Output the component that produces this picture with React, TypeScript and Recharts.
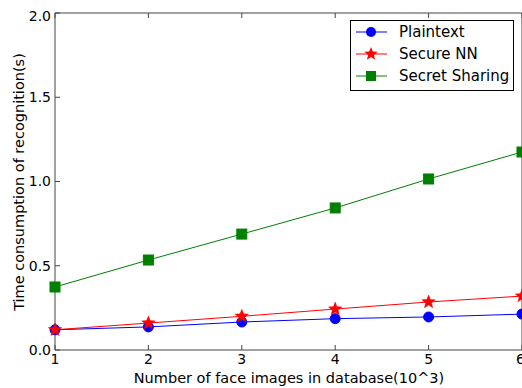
import { CartesianGrid, Legend, Line, LineChart, XAxis, YAxis } from "recharts";

const sizes = [1, 2, 3, 4, 5, 6];
const plaintext = [0.12, 0.137, 0.166, 0.186, 0.196, 0.213];
const secureNN = [0.12, 0.16, 0.2, 0.243, 0.285, 0.32];
const secretSharing = [0.374, 0.534, 0.688, 0.843, 1.015, 1.175];
const yTicks = [0, 0.5, 1, 1.5, 2];

const data = sizes.map((n, i) => ({
  n,
  plaintext: plaintext[i],
  secureNN: secureNN[i],
  secretSharing: secretSharing[i],
}));

const FONT = "'DejaVu Sans', sans-serif";
const FRAME = "#444";

function starPoints(cx: number, cy: number, ro: number, ri: number) {
  const pts: string[] = [];
  for (let k = 0; k < 10; k++) {
    const r = k % 2 === 0 ? ro : ri;
    const a = -Math.PI / 2 + (k * Math.PI) / 5;
    pts.push(`${cx + r * Math.cos(a)},${cy + r * Math.sin(a)}`);
  }
  return pts.join(" ");
}

const CircleDot = (p: any) => (
  <circle key={p.index} cx={p.cx} cy={p.cy} r={5} fill="#0000ff" stroke="#0000ff" />
);
const StarDot = (p: any) => (
  <polygon key={p.index} points={starPoints(p.cx, p.cy, 7, 3)} fill="#ff0000" stroke="#ff0000" strokeWidth={0.5} />
);
const SquareDot = (p: any) => (
  <rect key={p.index} x={p.cx - 5} y={p.cy - 5} width={10} height={10} fill="#008000" stroke="#008000" />
);

const legendItems = [
  { name: "Plaintext", color: "#0000ff", kind: "circle" },
  { name: "Secure NN", color: "#ff0000", kind: "star" },
  { name: "Secret Sharing", color: "#008000", kind: "square" },
];

function LegendBox() {
  return (
    <svg width={164} height={71} style={{ display: "block" }}>
      <rect x={0.5} y={0.5} width={163} height={70} fill="#fff" stroke="#000" />
      {legendItems.map((it, i) => {
        const y = 12 + i * 22;
        return (
          <g key={it.name}>
            <line x1={6} x2={37} y1={y} y2={y} stroke={it.color} />
            {it.kind === "circle" && <circle cx={21} cy={y} r={5} fill={it.color} />}
            {it.kind === "star" && <polygon points={starPoints(21, y, 7, 3)} fill={it.color} />}
            {it.kind === "square" && <rect x={16} y={y - 5} width={10} height={10} fill={it.color} />}
            <text x={49} y={y} dominantBaseline="central" fontFamily={FONT} fontSize={15} fill="#000">
              {it.name}
            </text>
          </g>
        );
      })}
    </svg>
  );
}

export default function App() {
  const tickStyle = { fontFamily: FONT, fontSize: 14, fill: "#000" };
  return (
    <div style={{ position: "absolute", left: 8, top: 8, width: 514, height: 380, overflow: "hidden" }}>
      <LineChart width={516} height={380} data={data} margin={{ top: 4, right: 0, bottom: 0, left: 0 }}>
        <CartesianGrid stroke="none" />
        <XAxis
          dataKey="n"
          type="number"
          domain={[1, 6]}
          ticks={sizes}
          height={38}
          tickSize={-5}
          tickMargin={9}
          tick={tickStyle}
          stroke={FRAME}
          label={{
            content: () => (
              <text x={281} y={370} textAnchor="middle" dominantBaseline="central" fontFamily={FONT} fontSize={14.5}>
                Number of face images in database(10^3)
              </text>
            ),
          }}
        />
        <XAxis
          xAxisId="top"
          orientation="top"
          dataKey="n"
          type="number"
          domain={[1, 6]}
          ticks={sizes}
          height={1}
          tickSize={-5}
          tick={() => <g />}
          stroke={FRAME}
        />
        <YAxis
          domain={[0, 2]}
          ticks={yTicks}
          width={47}
          tickSize={-5}
          tickMargin={9}
          tick={tickStyle}
          tickFormatter={(v: number) => v.toFixed(1)}
          stroke={FRAME}
          label={{
            content: () => (
              <text
                x={11}
                y={174}
                transform="rotate(-90 11 174)"
                textAnchor="middle"
                dominantBaseline="central"
                fontFamily={FONT}
                fontSize={14.5}
              >
                Time consumption of recognition(s)
              </text>
            ),
          }}
        />
        <YAxis
          yAxisId="right"
          orientation="right"
          domain={[0, 2]}
          ticks={yTicks}
          width={2}
          tickSize={-5}
          tick={() => <g />}
          stroke={FRAME}
        />
        <Legend
          layout="vertical"
          align="center"
          verticalAlign="middle"
          content={() => <LegendBox />}
          wrapperStyle={{ position: "absolute", left: 342, top: 12, width: 164, height: 71 }}
        />
        <Line dataKey="plaintext" name="Plaintext" stroke="#0000ff" strokeWidth={1} dot={CircleDot} isAnimationActive={false} />
        <Line dataKey="secureNN" name="Secure NN" stroke="#ff0000" strokeWidth={1} dot={StarDot} isAnimationActive={false} />
        <Line dataKey="secretSharing" name="Secret Sharing" stroke="#008000" strokeWidth={1} dot={SquareDot} isAnimationActive={false} />
      </LineChart>
    </div>
  );
}
